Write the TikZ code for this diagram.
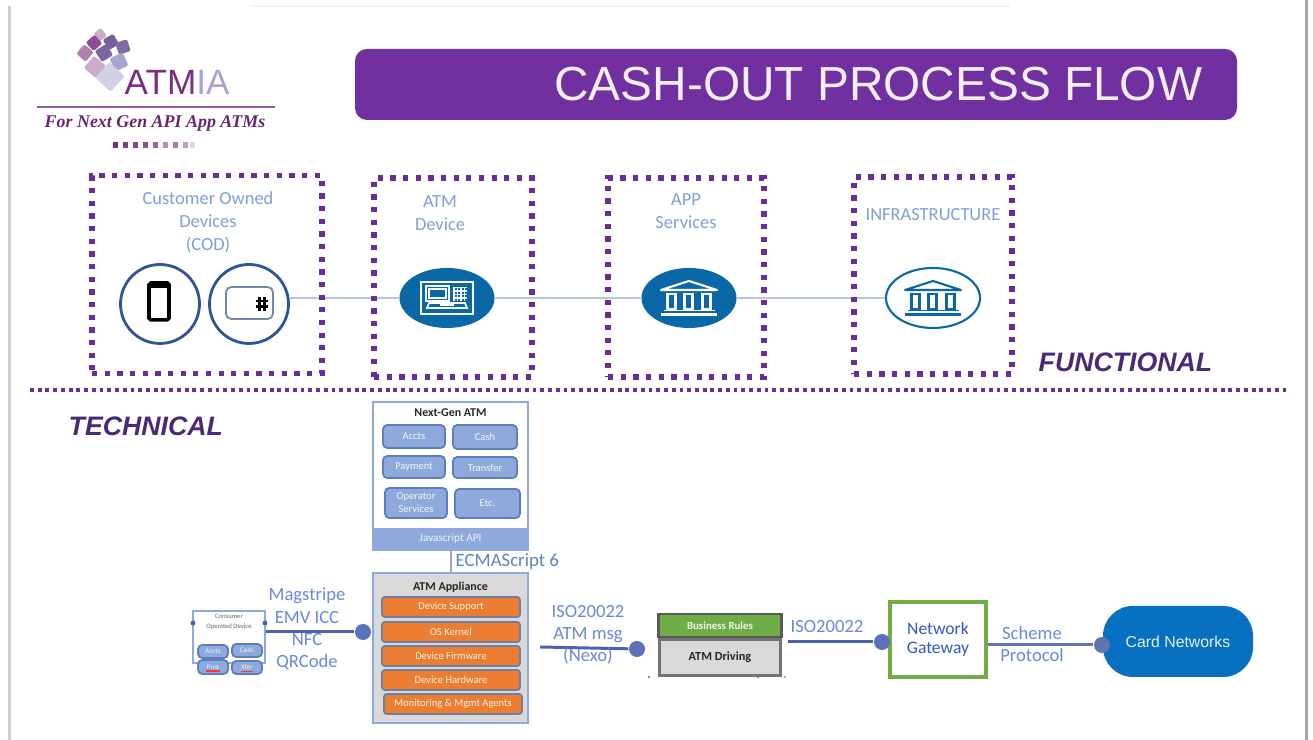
\documentclass[tikz,border=0pt]{standalone}
\usepackage{fontspec}
\setmainfont{Carlito}
\newfontfamily\titlefont{Liberation Sans}
\newfontfamily\logofont{Liberation Serif}
\usetikzlibrary{positioning, shapes.geometric, calc}
\definecolor{barpurple}{HTML}{7030A0}
\definecolor{dotpurple}{HTML}{6A2C9C}
\definecolor{headpurple}{HTML}{4A2A78}
\definecolor{logopurple}{HTML}{7A2E80}
\definecolor{logolilac}{HTML}{A9A3CF}
\definecolor{softblue}{HTML}{7F9FDC}
\definecolor{ecmablue}{HTML}{5B84C8}
\definecolor{seablue}{HTML}{0A68A6}
\definecolor{ringblue}{HTML}{2F5597}
\definecolor{linkblue}{HTML}{B4C7E7}
\definecolor{tileblue}{HTML}{8EA9DB}
\definecolor{tileedge}{HTML}{5F7DBB}
\definecolor{flowblue}{HTML}{4A63B0}
\definecolor{portblue}{HTML}{5B70BE}
\definecolor{panelgrey}{HTML}{D9D9D9}
\definecolor{rowedge}{HTML}{6F7F9F}
\definecolor{roworange}{HTML}{ED7D31}
\definecolor{rulegreen}{HTML}{70AD47}
\definecolor{gatewayblue}{HTML}{2F55D4}
\definecolor{cardblue}{HTML}{0870C0}
\tikzset{
	dotbox/.style={draw=dotpurple, line width=1.5pt, dash pattern=on 1.5pt off 2.1pt, inner sep=0},
	softtext/.style={text=softblue, align=center, font=\fontsize{5.25}{6.55}\selectfont, inner sep=0},
	techtext/.style={text=softblue!85!blue, align=center, font=\fontsize{5.3}{6.3}\selectfont, inner sep=0},
	headtext/.style={text=headpurple, font=\titlefont\bfseries\itshape\fontsize{7.6}{8}\selectfont, inner sep=0},
	ringnode/.style={circle, draw=ringblue, line width=0.8pt, minimum size=0.79cm, inner sep=0},
	seanode/.style={ellipse, fill=seablue, minimum width=0.95cm, minimum height=0.6cm, inner sep=0},
	tilenode/.style={draw=tileedge, fill=tileblue, line width=0.5pt, rounded corners=1.2pt, text=white!88!tileblue, align=center, inner sep=0, font=\fontsize{3}{3.7}\selectfont},
	rownode/.style={draw=rowedge, fill=roworange, line width=0.5pt, rounded corners=0.8pt, text=white!90!roworange, inner sep=0, font=\fontsize{3}{3.6}\selectfont},
	panelnode/.style={draw=tileblue, line width=0.6pt, inner sep=0},
	portnode/.style={circle, fill=portblue, minimum size=0.16cm, inner sep=0},
	flowline/.style={draw=flowblue, line width=0.85pt},
	bankicon/.pic={
		\draw[#1, line width=0.6pt, line join=round] (-0.28,0.08) -- (0,0.17) -- (0.28,0.08) -- cycle;
		\foreach \colx in {-0.175,-0.005,0.175}
			\draw[#1, line width=0.7pt] (\colx-0.04,-0.11) rectangle (\colx+0.04,0.04);
		\draw[#1, line width=0.5pt] (-0.25,-0.125) -- (0.26,-0.125);
		\draw[#1, line width=0.7pt] (-0.28,-0.165) -- (0.28,-0.165);
	},
	atmicon/.pic={
		\draw[white, line width=0.5pt] (-0.26,-0.16) rectangle (0.26,0.16);
		\draw[white, line width=0.5pt] (-0.21,-0.03) rectangle (0.02,0.12);
		\draw[white, line width=0.35pt] (-0.18,0) rectangle (-0.01,0.09);
		\draw[white, line width=0.3pt, step=0.035] (0.06,-0.03) grid (0.2,0.11);
		\draw[white, line width=0.5pt] (-0.2,-0.1) -- (-0.18,-0.05) -- (0.18,-0.05) -- (0.2,-0.1) -- cycle;
		\fill[white] (-0.07,-0.085) rectangle (0.07,-0.065);
	},
}
\begin{document}
\begin{tikzpicture}
	\useasboundingbox (0,0) rectangle (13.13,7.40);
	\fill[white] (0,0) rectangle (13.13,7.40);
	\fill[black!20] (0.08,0) rectangle (0.11,7.34);
	\fill[black!35] (13.05,0) rectangle (13.08,7.40);
	\draw[black!5, line width=0.4pt] (2.5,7.34) -- (10.1,7.34);

	% logo
	\foreach \tilex/\tiley/\tilesize/\tileturn/\tilecol in {
		1.00/7.05/0.05/38/logopurple!40,
		0.94/6.97/0.058/42/logopurple!85,
		1.11/6.98/0.06/30/headpurple!75,
		1.23/6.93/0.062/18/logolilac!55!headpurple,
		0.85/6.87/0.062/50/logopurple!60,
		1.04/6.87/0.066/32/logolilac!50!headpurple,
		1.19/6.78/0.072/25/logolilac,
		0.95/6.73/0.08/50/logopurple!40,
		1.10/6.63/0.105/47/logolilac!50}
		\fill[\tilecol, rounded corners=0.6pt, rotate around={\tileturn:(\tilex,\tiley)}] (\tilex-\tilesize,\tiley-\tilesize) rectangle (\tilex+\tilesize,\tiley+\tilesize);
	\node[anchor=west, inner sep=0, text=logopurple, font=\titlefont\fontsize{10}{11}\selectfont] (atmialogo) at (1.24,6.58) {ATM\textcolor{logolilac}{IA}};
	\draw[logopurple!80, line width=0.5pt] (0.37,6.33) -- (2.75,6.33);
	\node[inner sep=0, text=logopurple!85!black, font=\logofont\bfseries\itshape\fontsize{5.1}{6}\selectfont] (slogan) at (1.55,6.17) {For Next Gen API App ATMs};
	\foreach \sqx/\sqtone in {1.155/100,1.255/95,1.355/90,1.455/85,1.555/75,1.655/55,1.755/65,1.855/45,1.925/20}
		\fill[logopurple!\sqtone] (\sqx-0.028,5.92) rectangle (\sqx+0.028,5.98);

	% title
	\node[fill=barpurple, rounded corners=3.4pt, minimum width=8.82cm, minimum height=0.71cm, inner sep=0] (titlebar) at (7.96,6.555) {};
	\node[anchor=east, inner sep=0, text=white!92!barpurple, font=\titlefont\fontsize{13.6}{14}\selectfont] (titletext) at (12.03,6.56) {CASH-OUT PROCESS FLOW};

	% functional row
	\node[ringnode] (phone) at (1.60,4.36) {};
	\node[ringnode] (card) at (2.49,4.36) {};
	\node[seanode] (atm) at (4.47,4.42) {};
	\node[seanode] (app) at (6.89,4.42) {};
	\node[ellipse, draw=seablue, line width=0.6pt, minimum width=0.94cm, minimum height=0.6cm, inner sep=0] (infra) at (9.33,4.42) {};
	\draw[linkblue, line width=0.6pt] (card.east |- atm.west) -- (atm.west);
	\draw[linkblue, line width=0.6pt] (atm) -- (app);
	\draw[linkblue, line width=0.6pt] (app) -- (infra);
	\draw[black, line width=1pt, rounded corners=0.5pt, fill=white] (1.49,4.20) rectangle (1.69,4.57);
	\fill[black] (1.49,4.52) rectangle (1.69,4.57);
	\draw[ringblue!70, line width=0.5pt, rounded corners=1.5pt] (2.26,4.21) rectangle (2.73,4.53);
	\draw[black, line width=0.7pt] (2.595,4.29) -- (2.595,4.43) (2.645,4.29) -- (2.645,4.43) (2.56,4.335) -- (2.68,4.335) (2.56,4.39) -- (2.68,4.39);
	\pic at (atm) {atmicon};
	\pic at (app) {bankicon=white};
	\pic at (infra) {bankicon=seablue};

	\node[dotbox, minimum width=2.30cm, minimum height=1.98cm] (codbox) at (2.07,4.655) {};
	\node[dotbox, minimum width=1.58cm, minimum height=1.99cm] (atmbox) at (4.53,4.625) {};
	\node[dotbox, minimum width=1.56cm, minimum height=1.99cm] (appbox) at (6.86,4.625) {};
	\node[dotbox, minimum width=1.58cm, minimum height=1.97cm] (infrabox) at (9.33,4.645) {};
	\node[softtext] (codtext) at (2.08,5.18) {Customer Owned\\Devices\\(COD)};
	\node[softtext] (atmtext) at (4.40,5.27) {ATM\\Device};
	\node[softtext] (apptext) at (6.86,5.29) {APP\\Services};
	\node[softtext] (infratext) at (9.33,5.25) {INFRASTRUCTURE};
	\node[headtext, anchor=east] (functional) at (12.13,3.78) {FUNCTIONAL};
	\draw[dotpurple, line width=1.1pt, dash pattern=on 1.1pt off 1.1pt] (0.30,3.50) -- (12.90,3.50);
	\node[headtext, anchor=west] (technical) at (0.68,3.14) {TECHNICAL};

	% next-gen atm
	\node[panelnode, fill=white, minimum width=1.55cm, minimum height=1.48cm] (nextgen) at (4.505,2.64) {};
	\node[fill=tileblue, minimum width=1.55cm, minimum height=0.22cm, inner sep=0, text=white!88!tileblue, font=\fontsize{3.2}{4}\selectfont] (jsapi) at (4.505,2.01) {Javascript API};
	\node[inner sep=0, font=\bfseries\fontsize{3.4}{4}\selectfont, text=black!85] (nextgentext) at (4.505,3.27) {Next-Gen ATM};
	\node[tilenode, minimum width=0.62cm, minimum height=0.23cm] (accts) at (4.14,3.035) {Accts};
	\node[tilenode, minimum width=0.64cm, minimum height=0.24cm] (cash) at (4.85,3.03) {Cash};
	\node[tilenode, minimum width=0.62cm, minimum height=0.22cm] (payment) at (4.14,2.73) {Payment};
	\node[tilenode, minimum width=0.64cm, minimum height=0.21cm] (transfer) at (4.85,2.725) {Transfer};
	\node[tilenode, minimum width=0.62cm, minimum height=0.30cm] (operator) at (4.16,2.37) {Operator\\Services};
	\node[tilenode, minimum width=0.65cm, minimum height=0.29cm] (etc) at (4.875,2.365) {Etc.};

	% atm appliance
	\node[panelnode, fill=panelgrey, minimum width=1.55cm, minimum height=1.50cm] (appliance) at (4.505,0.92) {};
	\draw[black!35, line width=0.6pt] (jsapi.south -| 4.51,0) -- (appliance.north -| 4.51,0);
	\node[softtext, text=ecmablue, anchor=west, font=\fontsize{5.35}{6.5}\selectfont] (ecma) at (4.55,1.78) {ECMAScript 6};
	\node[inner sep=0, font=\bfseries\fontsize{3.4}{4}\selectfont, text=black!85] (appliancetext) at (4.505,1.53) {ATM Appliance};
	\node[rownode, minimum width=1.38cm, minimum height=0.20cm] (support) at (4.51,1.33) {Device Support};
	\node[rownode, minimum width=1.38cm, minimum height=0.20cm] (kernel) at (4.51,1.08) {OS Kernel};
	\node[rownode, minimum width=1.38cm, minimum height=0.20cm] (firmware) at (4.51,0.84) {Device Firmware};
	\node[rownode, minimum width=1.38cm, minimum height=0.20cm] (hardware) at (4.51,0.60) {Device Hardware};
	\node[rownode, minimum width=1.38cm, minimum height=0.20cm] (agents) at (4.53,0.36) {Monitoring \& Mgmt Agents};

	% consumer device
	\node[panelnode, minimum width=0.72cm, minimum height=0.52cm] (consumer) at (2.29,1.03) {};
	\node[inner sep=0, align=center, text=black!60, font=\fontsize{1.9}{2.8}\selectfont] (consumertext) at (2.29,1.18) {Consumer\\Operated Device};
	\node[tilenode, font=\fontsize{2}{2.5}\selectfont, minimum width=0.30cm, minimum height=0.13cm] (caccts) at (2.13,0.885) {Accts};
	\node[tilenode, font=\fontsize{2}{2.5}\selectfont, minimum width=0.30cm, minimum height=0.13cm] (ccash) at (2.47,0.895) {Cash};
	\node[tilenode, font=\fontsize{2}{2.5}\selectfont, minimum width=0.30cm, minimum height=0.14cm] (cprnt) at (2.13,0.73) {Prnt};
	\node[tilenode, font=\fontsize{2}{2.5}\selectfont, minimum width=0.30cm, minimum height=0.13cm] (cxfer) at (2.47,0.725) {Xfer};
	\draw[red!80, line width=0.3pt] (2.06,0.69) -- (2.20,0.69);
	\draw[red!80, line width=0.3pt] (2.41,0.685) -- (2.53,0.685);
	\node[circle, fill=flowblue, minimum size=0.05cm, inner sep=0] (handleleft) at (1.93,1.17) {};
	\node[circle, fill=flowblue, minimum size=0.05cm, inner sep=0] (handleright) at (2.65,1.17) {};
	\node[portnode] (codport) at (3.63,1.08) {};
	\draw[flowline] (consumer.east |- codport) -- (codport);
	\node[techtext] (codlabel) at (3.07,1.11) {Magstripe\\EMV ICC\\NFC\\QRCode};

	% atm driving
	\coordinate (nexostart) at (5.40,0.93);
	\node[portnode] (nexoport) at (6.37,0.91) {};
	\draw[flowline] (nexostart) -- (nexoport);
	\node[techtext] (nexolabel) at (5.88,1.05) {ISO20022\\ATM msg\\(Nexo)};
	\node[draw=black!65, fill=rulegreen, line width=0.7pt, minimum width=1.23cm, minimum height=0.23cm, inner sep=0, text=white!90!rulegreen, font=\bfseries\fontsize{3.1}{4}\selectfont] (rules) at (7.20,1.145) {Business Rules};
	\node[draw=black!55, fill=panelgrey, line width=0.7pt, minimum width=1.21cm, minimum height=0.36cm, inner sep=0, text=black!85, font=\bfseries\fontsize{3.5}{4}\selectfont, below=0pt of rules] (driving) {ATM Driving};
	\fill[flowblue] (6.49,0.63) circle[radius=0.012];
	\fill[flowblue] (7.58,0.63) circle[radius=0.012];
	\fill[rulegreen] (7.85,0.63) circle[radius=0.012];

	% gateway and card networks
	\node[draw=rulegreen, line width=0.9pt, minimum width=0.96cm, minimum height=0.75cm, align=center, inner sep=0, text=gatewayblue, font=\fontsize{5}{5.4}\selectfont] (gateway) at (9.38,1.005) {Network\\Gateway};
	\coordinate (isostart) at (7.88,0.98);
	\node[portnode] (gatewayport) at (8.82,0.98) {};
	\draw[flowline] (isostart) -- (gatewayport);
	\node[techtext] (isolabel) at (8.27,1.13) {ISO20022};
	\node[fill=cardblue, rounded corners=8.5pt, minimum width=1.50cm, minimum height=0.71cm, inner sep=0, text=white!90!cardblue, font=\titlefont\fontsize{4.5}{5}\selectfont] (networks) at (11.78,0.985) {Card Networks};
	\node[circle, fill=portblue!80!gray, minimum size=0.16cm, inner sep=0] (networksport) at (11.02,0.95) {};
	\draw[draw=portblue!85!gray, line width=0.85pt] (gateway.east |- networksport) -- (networksport);
	\node[techtext] (schemelabel) at (10.32,0.96) {Scheme\\Protocol};
\end{tikzpicture}
\end{document}
